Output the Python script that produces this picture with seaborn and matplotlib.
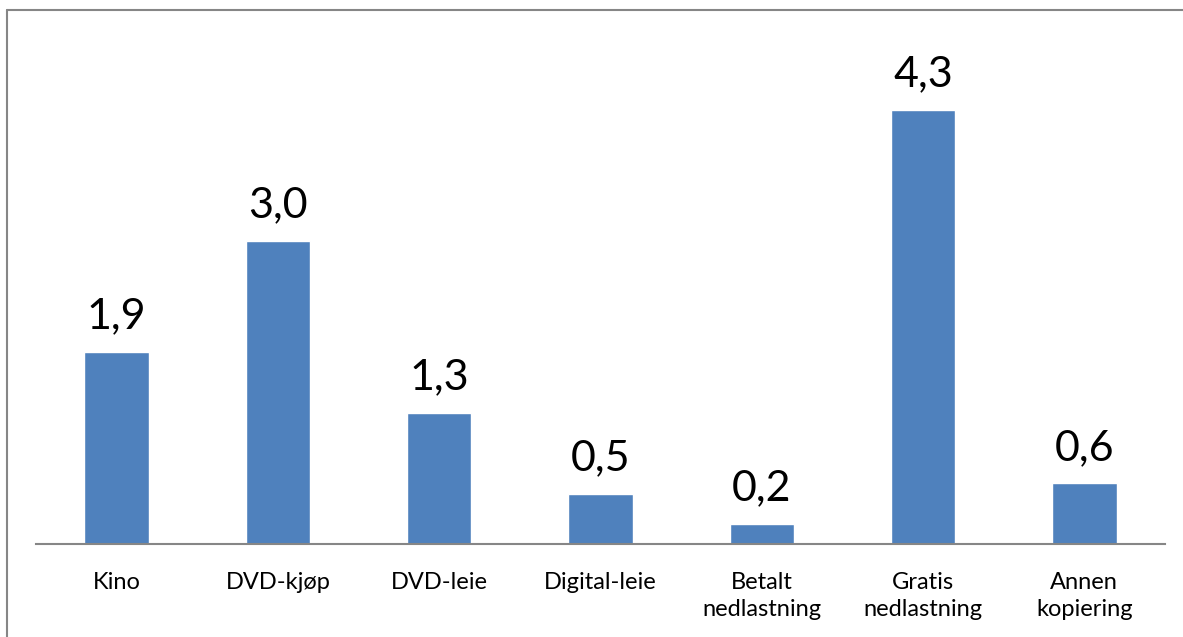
import matplotlib
matplotlib.use("Agg")
import matplotlib.pyplot as plt
import seaborn as sns
import pandas as pd

categories = ["Kino", "DVD-kjøp", "DVD-leie", "Digital-leie",
              "Betalt\nnedlastning", "Gratis\nnedlastning", "Annen\nkopiering"]
values = [1.9, 3.0, 1.3, 0.5, 0.2, 4.3, 0.6]

sns.set_theme(style="white")
plt.rcParams["font.family"] = ["Lato", "DejaVu Sans"]

df = pd.DataFrame({"kategori": categories, "verdi": values})

W, H = 1183, 637
fig = plt.figure(figsize=(W / 100, H / 100), dpi=100)
ax = fig.add_axes([36 / W, 1 - 544 / H, (1165 - 36) / W, (544 - 39.5) / H])

sns.barplot(data=df, x="kategori", y="verdi", color="#4F81BD",
            width=0.4, saturation=1, ax=ax)

ax.set_ylim(0, 5)
ax.set_xlim(-0.5, len(categories) - 0.5)
ax.set_xlabel("")
ax.set_ylabel("")
ax.set_yticks([])
for s in ["top", "right", "left"]:
    ax.spines[s].set_visible(False)
ax.spines["bottom"].set_color("#868686")
ax.spines["bottom"].set_linewidth(1.5)
ax.tick_params(axis="x", length=0, pad=20, labelsize=17, colors="black")
for lbl in ax.get_xticklabels():
    lbl.set_linespacing(1.35)
ax.set_facecolor("none")

for i, v in enumerate(values):
    ax.annotate(f"{v:.1f}".replace(".", ","), (i, v), xytext=(0, 12),
                textcoords="offset points", ha="center", va="bottom",
                fontsize=31, color="black")

# outer frame of the chart area
fig.add_artist(plt.Line2D([6.5 / W, 6.5 / W], [0, 1 - 9.5 / H],
                          transform=fig.transFigure, color="#868686", lw=1.5))
fig.add_artist(plt.Line2D([6.5 / W, 1], [1 - 9.5 / H, 1 - 9.5 / H],
                          transform=fig.transFigure, color="#868686", lw=1.5))

fig.savefig("out.png", dpi=100, facecolor="white")
